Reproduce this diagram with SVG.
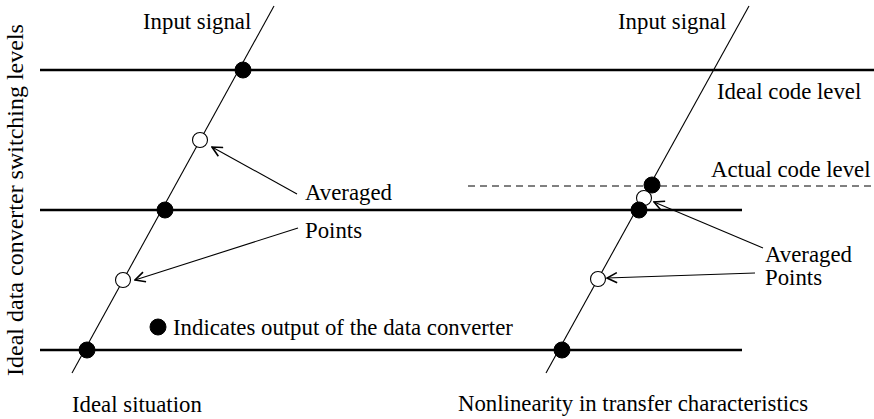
<svg xmlns="http://www.w3.org/2000/svg" width="874" height="419" viewBox="0 0 874 419">
<defs>
<style>
text{font-family:"Liberation Serif","Times New Roman",serif;font-size:22.8px;fill:#000}
.vlabel{font-size:24px}
.level{stroke:#000;stroke-width:2.5;fill:none}
.signal{stroke:#000;stroke-width:1.1;fill:none}
.dash{stroke:#000;stroke-width:1;stroke-dasharray:7 5;fill:none}
.arrow{stroke:#000;stroke-width:1.1;fill:none;marker-end:url(#ah)}
.filled{fill:#000;stroke:#000;stroke-width:1}
.empty{fill:#fff;stroke:#000;stroke-width:1.1}
</style>
<marker id="ah" viewBox="0 0 12 12" refX="11" refY="6" markerWidth="12" markerHeight="12" markerUnits="userSpaceOnUse" orient="auto">
<polyline points="1,1 11,6 1,11" fill="none" stroke="#000" stroke-width="1.6"/>
</marker>
</defs>
<rect width="874" height="419" fill="#fff"/>
<g id="axis-label">
<text class="vlabel" transform="translate(23,200) rotate(-90)" text-anchor="middle">Ideal data converter switching levels</text>
</g>
<g id="levels">
<line class="level" x1="40" y1="70" x2="874" y2="70"/>
<line class="level" x1="40" y1="210" x2="742" y2="210"/>
<line class="level" x1="40" y1="350" x2="742" y2="350"/>
<line class="dash" x1="468" y1="186" x2="874" y2="186"/>
</g>
<g id="signals">
<line class="signal" x1="274" y1="6" x2="72" y2="373"/>
<line class="signal" x1="749" y1="6" x2="546" y2="373"/>
</g>
<g id="connectors">
<line class="arrow" x1="297" y1="194" x2="212" y2="147"/>
<line class="arrow" x1="298" y1="228" x2="135" y2="280"/>
<line class="arrow" x1="763" y1="248" x2="654" y2="202"/>
<line class="arrow" x1="755" y1="273" x2="607" y2="278"/>
</g>
<g id="left-points">
<circle class="filled" cx="243" cy="70" r="8"/>
<circle class="empty" cx="200" cy="140" r="7.5"/>
<circle class="filled" cx="165" cy="210" r="8"/>
<circle class="empty" cx="123" cy="280" r="7.5"/>
<circle class="filled" cx="87" cy="350" r="8"/>
</g>
<g id="right-points">
<circle class="empty" cx="644" cy="198" r="7.5"/>
<circle class="filled" cx="652" cy="185" r="8"/>
<circle class="filled" cx="639" cy="210" r="8"/>
<circle class="empty" cx="598" cy="279" r="7.5"/>
<circle class="filled" cx="562" cy="350" r="8"/>
</g>
<g id="legend">
<circle class="filled" cx="158" cy="327" r="8"/>
<text x="173" y="335">Indicates output of the data converter</text>
</g>
<g id="labels">
<text x="143" y="29">Input signal</text>
<text x="618" y="29">Input signal</text>
<text x="717" y="99">Ideal code level</text>
<text x="711" y="177">Actual code level</text>
<text x="305" y="200">Averaged</text>
<text x="305" y="238">Points</text>
<text x="765" y="262">Averaged</text>
<text x="765" y="285">Points</text>
<text x="72" y="412">Ideal situation</text>
<text x="458" y="411">Nonlinearity in transfer characteristics</text>
</g>
</svg>
